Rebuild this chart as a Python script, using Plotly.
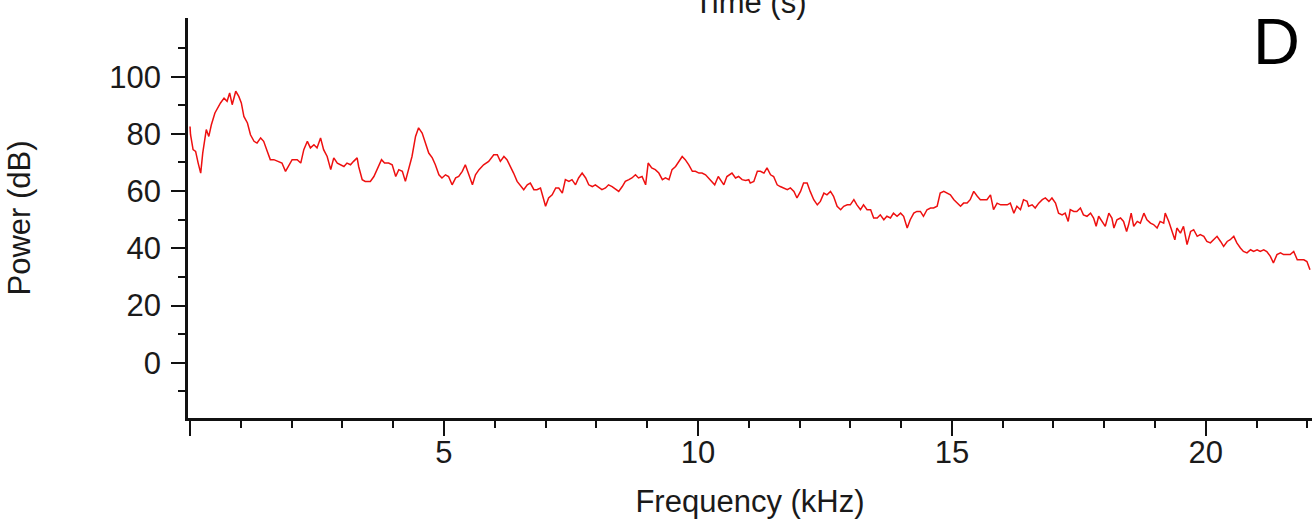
import plotly.graph_objects as go

# Frequency (kHz) / Power (dB), in four segments
freq_a = [0.00,0.01,0.06,0.11,0.16,0.21,0.25,0.29,0.32,0.37, 0.42,0.49,0.54,0.60,0.67,0.73,0.78,0.83,0.90,0.96,
          1.01,1.06,1.13,1.19,1.26,1.32,1.39,1.45,1.52,1.58, 1.65,1.75,1.81,1.88,1.94,2.01,2.11,2.18,2.24,2.31,
          2.37,2.44,2.50,2.57,2.63,2.70,2.77,2.83,2.90,2.96, 3.03,3.09,3.16,3.22,3.29,3.32,3.39,3.45,3.55,3.62,
          3.69,3.77,3.83,3.91,3.98,4.05,4.11,4.18,4.24,4.31, 4.37,4.44,4.50,4.57,4.64,4.70,4.77,4.83,4.90,4.96,
          5.03,5.09,5.16,5.23,5.29,5.36,5.42,5.49]
power_a = [82.6,79.7,74.5,73.9,69.8,66.3,73.3,78.0,81.5,79.1, 83.2,87.3,89.0,90.8,92.5,91.4,94.3,90.2,94.9,93.1,
           90.8,86.1,83.8,79.7,77.4,76.8,78.6,77.4,73.9,71.0, 71.0,70.4,69.8,66.9,68.6,71.0,71.0,69.8,74.5,77.4,
           75.1,76.2,75.1,78.6,74.5,72.1,67.5,71.6,69.8,69.2, 68.6,69.8,69.2,70.4,71.6,68.6,64.0,63.4,63.4,65.1,
           68.1,71.0,69.8,69.8,69.2,65.1,67.5,66.9,63.4,68.6, 72.1,79.1,82.1,80.3,76.8,73.3,71.6,69.2,65.7,64.6,
           65.7,65.1,62.2,64.6,65.1,66.9,69.2,66.0]

freq_b = [5.56,5.62,5.69,5.78,5.88,5.98,6.05,6.11,6.18,6.24, 6.31,6.37,6.44,6.51,6.57,6.64,6.70,6.77,6.83,6.90,
          6.94,7.00,7.06,7.13,7.20,7.26,7.33,7.39,7.46,7.52, 7.59,7.65,7.72,7.79,7.85,7.92,7.98,8.05,8.11,8.18,
          8.24,8.31,8.38,8.44,8.51,8.57,8.64,8.70,8.77,8.83, 8.90,8.97,9.02,9.09,9.16,9.23,9.30,9.36,9.43,9.49,
          9.56,9.62,9.69,9.75,9.82,9.89,9.95,10.02,10.08,10.15, 10.21,10.28,10.33,10.40,10.46,10.51,10.57,10.67,10.74,10.80,
          10.87,10.94,11.00]
power_b = [62.2,65.7,67.5,69.2,70.4,72.7,72.7,70.4,72.1,71.0, 68.6,66.3,63.4,61.6,60.5,62.2,62.8,60.5,60.5,61.1,
           58.2,54.7,57.6,58.7,61.1,61.1,59.3,64.0,63.4,64.0, 62.2,64.6,66.3,64.6,62.2,61.6,62.2,61.1,60.5,61.1,
           62.2,61.6,60.5,59.9,61.6,63.4,64.0,64.6,65.7,64.6, 65.1,62.2,69.8,68.1,67.5,66.3,64.0,64.6,64.0,67.5,
           68.6,70.4,72.1,71.0,69.2,66.9,66.9,66.3,66.3,65.7, 64.6,63.4,62.2,65.1,63.4,62.2,65.1,66.3,64.6,65.1,
           64.0,63.7,64.0]

freq_c = [11.03,11.10,11.17,11.23,11.30,11.36,11.43,11.49,11.56,11.62, 11.69,11.76,11.82,11.89,11.95,12.02,12.08,12.15,12.21,12.28,
          12.35,12.41,12.48,12.54,12.61,12.67,12.74,12.81,12.87,12.94, 13.00,13.07,13.13,13.20,13.26,13.33,13.40,13.46,13.53,13.59,
          13.66,13.72,13.79,13.85,13.92,13.99,14.05,14.12,14.18,14.25, 14.31,14.38,14.44,14.51,14.58,14.64,14.71,14.77,14.84,14.91,
          14.97,15.04,15.10,15.17,15.23,15.30,15.36,15.43,15.50,15.56, 15.63,15.69,15.76,15.82,15.89,15.96,16.02,16.09,16.15,16.22,
          16.28,16.35,16.41,16.48]
power_c = [62.8,63.4,66.9,66.9,66.3,68.1,65.7,65.1,62.2,61.6, 61.1,60.5,61.1,59.9,57.6,59.9,62.8,62.8,59.9,57.0,
           55.2,56.4,59.3,58.7,59.9,58.2,54.7,53.5,54.7,55.2, 55.2,57.0,55.2,53.5,55.2,53.5,53.5,50.6,50.6,51.7,
           50.0,51.2,50.6,52.3,51.2,52.3,51.2,47.1,50.0,52.3, 52.9,52.9,51.2,53.5,54.1,54.1,54.7,59.3,59.9,59.3,
           58.7,57.0,55.8,54.7,55.8,55.8,57.0,59.9,58.2,57.0, 57.0,57.0,58.7,53.5,55.8,55.2,55.2,55.2,55.8,52.3,
           54.7,53.5,57.0,56.4]

freq_d = [16.51,16.58,16.64,16.71,16.78,16.84,16.91,16.97,17.04,17.10, 17.17,17.23,17.29,17.33,17.40,17.46,17.53,17.59,17.66,17.73,
          17.79,17.84,17.89,17.96,18.02,18.09,18.15,18.19,18.25,18.32, 18.38,18.44,18.48,18.53,18.58,18.65,18.71,18.78,18.84,18.91,
          18.97,19.04,19.10,19.17,19.20,19.27,19.33,19.39,19.43,19.50, 19.56,19.63,19.70,19.76,19.83,19.89,19.96,20.02,20.09,20.15,
          20.22,20.29,20.35,20.42,20.48,20.55,20.61,20.68,20.74,20.81, 20.88,20.94,21.01,21.07,21.14,21.20,21.27,21.33,21.40,21.47,
          21.53,21.60,21.66,21.73,21.80,21.86,21.93,21.99,22.05]
power_d = [54.7,55.2,54.1,55.8,57.0,57.6,56.4,57.6,55.8,52.3, 51.7,52.3,49.4,53.5,52.9,52.9,54.1,51.7,51.2,52.3,
           50.6,47.7,51.2,49.4,47.7,52.3,50.6,47.1,50.0,50.6, 49.4,45.9,48.3,52.3,47.7,49.4,48.8,52.3,50.0,48.8,
           48.3,47.1,49.4,48.8,52.3,49.4,46.5,43.0,47.1,45.3, 47.7,41.3,45.9,46.5,44.2,44.8,44.2,42.4,41.9,43.0,
           44.2,42.4,40.7,42.4,43.0,44.2,41.9,40.1,38.9,38.4, 39.5,38.9,39.5,38.9,39.5,38.9,37.2,34.9,37.8,38.4,
           37.8,37.8,37.8,38.9,36.0,36.0,36.0,35.4,32.5]

x_tick_vals = [0, 5, 10, 15, 20]
x_tick_text = ["", "5", "10", "15", "20"]
y_tick_vals = [0, 20, 40, 60, 80, 100]
y_tick_text = ["0", "20", "40", "60", "80", "100"]
x_minor_vals = [1, 2, 3, 4, 6, 7, 8, 9, 11, 12, 13, 14, 16, 17, 18, 19, 21, 22]
y_minor_vals = [-10, 10, 30, 50, 70, 90, 110]

freq = freq_a + freq_b + freq_c + freq_d
power = power_a + power_b + power_c + power_d
assert len(freq) == len(power)

FONT = "Liberation Sans, Arial, sans-serif"
TXT = "#1a1a1a"

fig = go.Figure()
fig.add_trace(go.Scatter(x=freq, y=power, mode="lines",
                         line=dict(color="#ee1010", width=1.5), showlegend=False,
                         hoverinfo="x+y"))

fig.update_layout(
    width=1312, height=519,
    margin=dict(l=188, r=0, t=18, b=101),
    paper_bgcolor="white", plot_bgcolor="white",
    font=dict(family=FONT, size=31, color=TXT),
    xaxis=dict(
        range=[-0.04, 22.09], showgrid=False, zeroline=False,
        showline=True, linecolor="#111", linewidth=2.5,
        tickmode="array", tickvals=x_tick_vals, ticktext=x_tick_text,
        ticks="outside", ticklen=15, tickwidth=2, tickcolor="#111",
        ticklabelstandoff=-10,
        tickfont=dict(family=FONT, size=31, color=TXT),
        minor=dict(tickmode="array", tickvals=x_minor_vals, ticks="outside",
                   ticklen=7, tickwidth=2, tickcolor="#111", showgrid=False),
        title=dict(text="Frequency (kHz)", font=dict(family=FONT, size=31, color=TXT), standoff=24),
    ),
    yaxis=dict(
        range=[-19.3, 120.5], showgrid=False, zeroline=False,
        showline=True, linecolor="#111", linewidth=2.5,
        tickmode="array", tickvals=y_tick_vals, ticktext=y_tick_text,
        ticks="outside", ticklen=14, tickwidth=2, tickcolor="#111",
        ticklabelstandoff=4,
        tickfont=dict(family=FONT, size=31, color=TXT),
        minor=dict(tickmode="array", tickvals=y_minor_vals, ticks="outside",
                   ticklen=7, tickwidth=2, tickcolor="#111", showgrid=False),
        title=dict(text="Power (dB)", font=dict(family=FONT, size=31, color=TXT), standoff=70),
    ),
    annotations=[
        dict(text="D", xref="paper", yref="paper", x=0.968, y=0.942,
             xanchor="center", yanchor="middle", showarrow=False,
             font=dict(family=FONT, size=65, color="#000")),
        dict(text="Time (s)", xref="paper", yref="paper", x=0.5, y=0.99,
             xanchor="center", yanchor="bottom", showarrow=False,
             font=dict(family=FONT, size=31, color=TXT)),
    ],
)

fig.write_html("out.html")
